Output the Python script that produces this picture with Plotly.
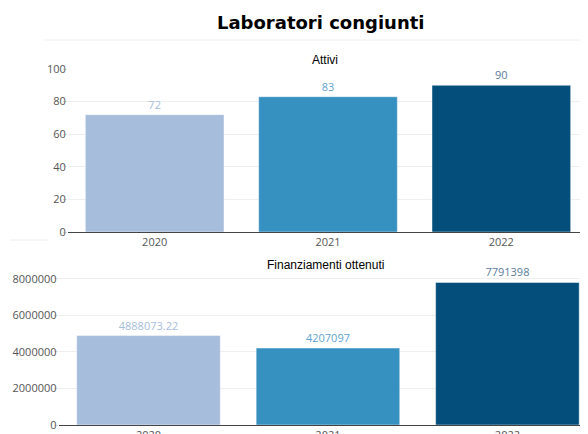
import plotly.graph_objects as go

# la pagina ha 8px di margine nel body: la figura è più piccola della finestra
W, H = 580, 426

anni = ["2020", "2021", "2022"]
attivi = [72, 83, 90]
finanziamenti = [4888073.22, 4207097, 7791398]
etichette_fin = ["4888073.22", "4207097", "7791398"]

colori = ["#a6bddb", "#3690c0", "#034e7b"]
colori_testo = ["#a6bddb", "#5fa3d0", "#5a7b9b"]

fig = go.Figure()

fig.add_trace(go.Bar(
    x=anni, y=attivi, text=[str(v) for v in attivi],
    textposition="outside", cliponaxis=False,
    textfont=dict(color=colori_testo, size=11),
    marker=dict(color=colori, line=dict(color="rgba(255,255,255,0.45)", width=1)),
    xaxis="x", yaxis="y", showlegend=False, hoverinfo="skip",
))
fig.add_trace(go.Bar(
    x=anni, y=finanziamenti, text=etichette_fin,
    textposition="outside", cliponaxis=False,
    textfont=dict(color=colori_testo, size=11),
    marker=dict(color=colori, line=dict(color="rgba(255,255,255,0.45)", width=1)),
    xaxis="x2", yaxis="y2", showlegend=False, hoverinfo="skip",
))

asse_y = dict(
    showgrid=True, gridcolor="#eeeeee", zeroline=False, automargin=False,
    ticks="outside", ticklen=4, tickcolor="#dddddd", ticklabelstandoff=-5,
    tickfont=dict(size=11, color="#555"),
)
asse_x = dict(
    showline=True, linecolor="#444", linewidth=1, showgrid=False, automargin=False,
    tickfont=dict(size=11, color="#555"),
)

fig.update_layout(
    width=W, height=H,
    margin=dict(l=0, r=0, t=0, b=0, autoexpand=False),
    plot_bgcolor="white", paper_bgcolor="white",
    font=dict(family="Open Sans, sans-serif"),
    bargap=0.2,
    xaxis=dict(asse_x, domain=[60 / W, 1.0], range=[-0.5, 2.5], anchor="y"),
    yaxis=dict(asse_y, domain=[1 - 224 / H, 1 - 61 / H], range=[0, 100],
               dtick=20, anchor="x"),
    xaxis2=dict(asse_x, domain=[50.75 / W, 1.0], range=[-0.5, 2.449], anchor="y2"),
    yaxis2=dict(asse_y, domain=[1 - 417 / H, 1 - 267 / H], range=[0, 8.2e6],
                tickvals=[0, 2e6, 4e6, 6e6, 8e6],
                ticktext=["0", "2000000", "4000000", "6000000", "8000000"], anchor="x2"),
    shapes=[
        dict(type="line", xref="paper", yref="paper", x0=37 / W, x1=1,
             y0=1 - 32 / H, y1=1 - 32 / H, line=dict(color="#eeeeee", width=1)),
        dict(type="line", xref="paper", yref="paper", x0=2 / W, x1=40 / W,
             y0=1 - 232 / H, y1=1 - 232 / H, line=dict(color="#eeeeee", width=1)),
    ],
)

fig.add_annotation(
    text="<b>Laboratori congiunti</b>", xref="paper", yref="paper",
    x=312 / W, y=1 - 14 / H, showarrow=False, xanchor="center", yanchor="middle",
    font=dict(family="DejaVu Sans", size=18, color="#000"),
)
fig.add_annotation(
    text="Attivi", xref="paper", yref="paper",
    x=317 / W, y=1 - 52 / H, showarrow=False, xanchor="center", yanchor="middle",
    font=dict(family="Liberation Sans", size=12, color="#000"),
)
fig.add_annotation(
    text="Finanziamenti ottenuti", xref="paper", yref="paper",
    x=317 / W, y=1 - 257 / H, showarrow=False, xanchor="center", yanchor="middle",
    font=dict(family="Liberation Sans", size=12, color="#000"),
)

fig.write_html("out.html")
